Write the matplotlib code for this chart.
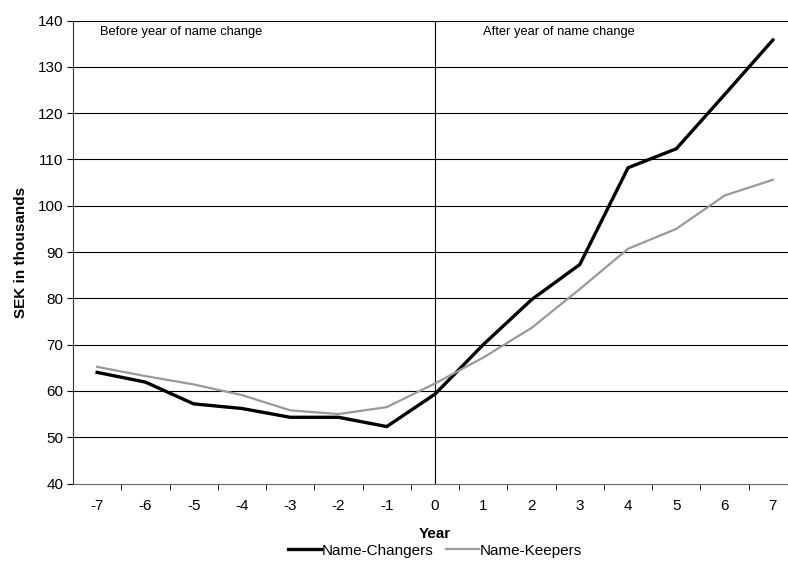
import matplotlib.pyplot as plt
import numpy as np

years = [-7, -6, -5, -4, -3, -2, -1, 0, 1, 2, 3, 4, 5, 6, 7]
changers = [64.0, 61.9, 57.2, 56.2, 54.3, 54.3, 52.3, 59.3, 70.0, 79.7, 87.3, 108.2, 112.3, 124.0, 135.8]
keepers = [65.2, 63.2, 61.4, 59.1, 55.8, 55.0, 56.5, 61.6, 67.2, 73.6, 82.0, 90.7, 95.0, 102.2, 105.6]

plt.rcParams['font.family'] = ['Liberation Sans', 'DejaVu Sans']

fig = plt.figure(figsize=(7.88, 5.61), dpi=100)
# plot area runs a bit past the right edge of the picture, like the original
ax = fig.add_axes([73 / 788, 1 - 483.5 / 561, 724 / 788, 463 / 561])

x = np.arange(len(years))
ax.plot(x, changers, color='black', lw=2.4, label='Name-Changers', solid_joinstyle='miter')
ax.plot(x, keepers, color='#999999', lw=1.6, label='Name-Keepers')

ax.set_xlim(-0.5, len(years) - 0.5)
ax.set_ylim(40, 140)
ax.set_yticks(range(40, 141, 10))
for yv in range(50, 141, 10):
    ax.axhline(yv, color='black', lw=0.8, zorder=0)
ax.axvline(years.index(0), color='black', lw=0.8, zorder=0)

ax.set_xticks(x)
ax.set_xticklabels([str(y) for y in years], fontsize=11)
ax.set_xticks(np.arange(0.5, len(years) - 1, 1), minor=True)
ax.tick_params(axis='x', which='major', length=0, pad=11)
ax.tick_params(axis='x', which='minor', length=4, direction='out')
ax.tick_params(axis='y', length=4, direction='out', labelsize=11, pad=3)

for s in ['top', 'right']:
    ax.spines[s].set_visible(False)
ax.spines['left'].set_color('#333333')
ax.spines['bottom'].set_color('#666666')

ax.text(0.06, 137.5, 'Before year of name change', fontsize=9.3, va='center')
ax.text(7.99, 137.5, 'After year of name change', fontsize=9.3, va='center')

ax.set_xlabel('Year', fontsize=11, fontweight='bold', labelpad=10)
ax.set_ylabel('SEK in thousands', fontsize=11, fontweight='bold', labelpad=7)

ax.legend(loc='upper center', bbox_to_anchor=(0.5, -0.13), ncol=2, frameon=False,
          fontsize=11, handlelength=2.2, handletextpad=0.05, columnspacing=0.8,
          borderaxespad=0, borderpad=0)

fig.savefig('out.png', dpi=100)
